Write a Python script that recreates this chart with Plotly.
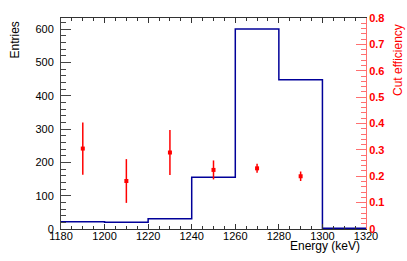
import plotly.graph_objects as go

# histogram (left axis, entries)
bin_edges = [1180, 1200, 1220, 1240, 1260, 1280, 1300, 1320]
entries = [22, 20, 31, 155, 600, 448, 2]

# cut efficiency (right axis)
eff_energy = [1190, 1210, 1230, 1250, 1270, 1290]
eff = [0.305, 0.182, 0.290, 0.224, 0.230, 0.200]
eff_err = [0.099, 0.083, 0.085, 0.036, 0.017, 0.018]

x_ticks = [1180, 1200, 1220, 1240, 1260, 1280, 1300, 1320]

FONT = "Liberation Sans, Arial, sans-serif"
HIST_COLOR = "#000099"
RED = "#ff0000"

fig = go.Figure()

fig.add_trace(go.Scatter(
    x=bin_edges,
    y=entries + [entries[-1]],
    mode="lines",
    line=dict(color=HIST_COLOR, width=1.5, shape="hv"),
    showlegend=False,
))

fig.add_trace(go.Scatter(
    x=eff_energy,
    y=eff,
    yaxis="y2",
    mode="markers",
    marker=dict(symbol="square", size=4, color=RED),
    error_y=dict(type="data", array=eff_err, color=RED, thickness=1.5, width=0),
    showlegend=False,
))

fig.update_layout(
    width=407,
    height=261,
    margin=dict(l=61, r=41, t=13, b=32),
    paper_bgcolor="white",
    plot_bgcolor="white",
    font=dict(family=FONT, size=11, color="black"),
    xaxis=dict(
        range=[1180, 1320],
        tickvals=x_ticks,
        ticks="inside", ticklen=5, tickcolor="#333",
        minor=dict(ticks="inside", ticklen=3, dtick=5, tickcolor="#333"),
        showline=True, linecolor="#333", linewidth=1, mirror="ticks",
        showgrid=False, zeroline=False,
        tickfont=dict(size=11),
        ticklabelstandoff=-3,
    ),
    yaxis=dict(
        range=[0, 633],
        dtick=100,
        ticks="inside", ticklen=10, tickcolor="#444",
        minor=dict(ticks="inside", ticklen=5, dtick=20, tickcolor="#444"),
        showline=True, linecolor="#444", linewidth=1,
        showgrid=False, zeroline=False,
        tickfont=dict(size=11),
        ticklabelstandoff=4,
    ),
    yaxis2=dict(
        range=[0, 0.8],
        dtick=0.1,
        overlaying="y",
        side="right",
        ticks="inside", ticklen=10, tickcolor="#ff7070",
        minor=dict(ticks="inside", ticklen=5, dtick=0.02, tickcolor="#ff7070"),
        showline=True, linecolor="#ff7070", linewidth=1,
        showgrid=False, zeroline=False,
        tickfont=dict(size=11, color=RED, family=FONT, weight="bold"),
    ),
    annotations=[
        dict(text="Entries", xref="paper", yref="paper", x=0, y=1,
             xshift=-47, yshift=-2, xanchor="center", yanchor="top",
             textangle=-90, showarrow=False, font=dict(size=12)),
        dict(text="Cut efficiency", xref="paper", yref="paper", x=1, y=1,
             xshift=32, yshift=-4, xanchor="center", yanchor="top",
             textangle=-90, showarrow=False, font=dict(size=12, color=RED)),
        dict(text="Energy (keV)", xref="paper", yref="paper", x=0.987, y=0,
             yshift=-17, xanchor="right", yanchor="middle",
             showarrow=False, font=dict(size=12)),
    ],
)

# page body has a default 8px margin; drop it so the figure sits at the corner
fig.write_html(
    "out.html",
    config={"displayModeBar": False},
    post_script="document.body.style.margin='0';",
)
